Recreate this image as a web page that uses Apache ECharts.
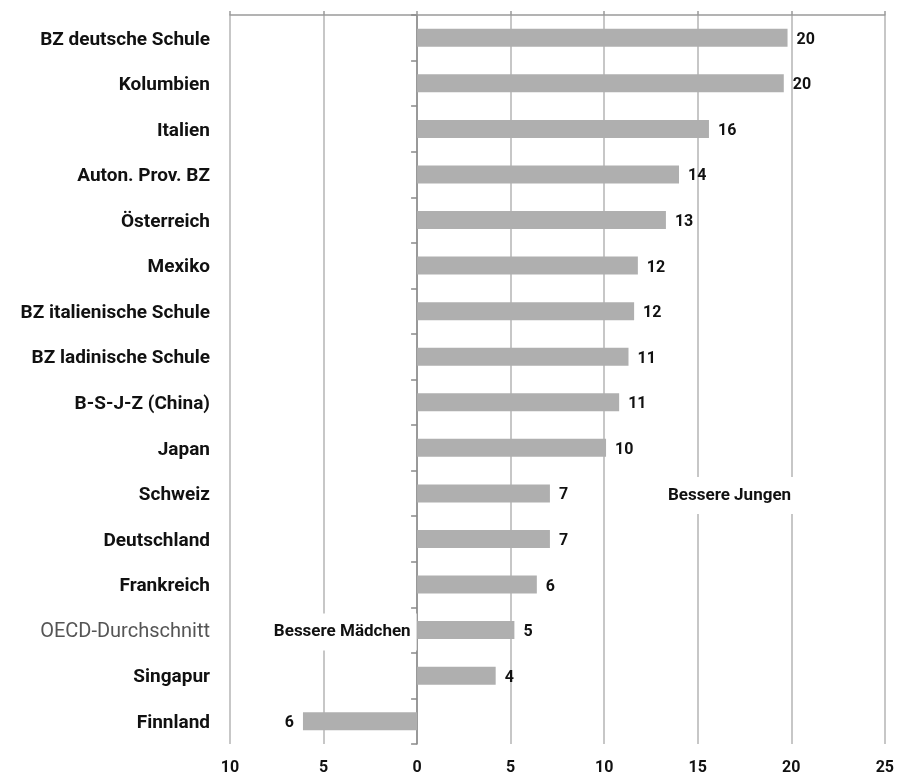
<!DOCTYPE html>
<html>
<head>
<meta charset="utf-8">
<script src="https://cdn.jsdelivr.net/npm/echarts@6/dist/echarts.min.js"></script>
<style>
  html, body { margin: 0; padding: 0; background: #fff; }
  #chart { width: 897px; height: 778px; }
</style>
</head>
<body>
<div id="chart"></div>
<script>
// Kategorien von oben nach unten
var categories = [
  'BZ deutsche Schule', 'Kolumbien', 'Italien', 'Auton. Prov. BZ', 'Österreich',
  'Mexiko', 'BZ italienische Schule', 'BZ ladinische Schule', 'B-S-J-Z (China)', 'Japan',
  'Schweiz', 'Deutschland', 'Frankreich', 'OECD-Durchschnitt', 'Singapur', 'Finnland'
];
// Punktedifferenz (positiv = bessere Jungen)
var values = [19.8, 19.6, 15.6, 14.0, 13.3, 11.8, 11.6, 11.3, 10.8, 10.1, 7.1, 7.1, 6.4, 5.2, 4.2, -6.1];
var axisTicks = [-10, -5, 0, 5, 10, 15, 20, 25];
var notes = [
  { text: 'Bessere Jungen', x: 16.7, y: 'Schweiz' },
  { text: 'Bessere Mädchen', x: -4.0, y: 'OECD-Durchschnitt' }
];

var font = 'Roboto';
var chart = echarts.init(document.getElementById('chart'));

chart.setOption({
  animation: false,
  textStyle: { fontFamily: font },
  grid: { left: 230, right: 12, top: 15, bottom: 34 },
  xAxis: [{
    type: 'value',
    min: axisTicks[0],
    max: axisTicks[axisTicks.length - 1],
    interval: 5,
    axisLine: { show: false },
    axisTick: { show: false },
    axisLabel: {
      margin: 16,
      color: '#111',
      fontSize: 16,
      fontWeight: 'bold',
      formatter: function(v) { return Math.abs(v); }
    },
    splitLine: { lineStyle: { color: '#b5b5b5', width: 1.5 } }
  }, {
    type: 'value',
    position: 'top',
    min: axisTicks[0],
    max: axisTicks[axisTicks.length - 1],
    interval: 5,
    axisLine: { show: true, lineStyle: { color: '#9a9a9a', width: 1.5 } },
    axisTick: { show: true, length: 4, lineStyle: { color: '#9a9a9a', width: 1.5 } },
    axisLabel: { show: false },
    splitLine: { show: false }
  }],
  yAxis: [{
    type: 'category',
    inverse: true,
    data: categories,
    axisLine: { onZero: true, lineStyle: { color: '#8a8a8a', width: 1.5 } },
    axisTick: { show: true, length: 6, lineStyle: { color: '#8a8a8a', width: 1.5 } },
    axisLabel: { show: false }
  }, {
    type: 'category',
    inverse: true,
    position: 'left',
    data: categories,
    axisLine: { show: false, onZero: false },
    axisTick: { show: false },
    axisLabel: {
      margin: 20,
      fontSize: 19,
      fontWeight: 'bold',
      color: '#111',
      padding: [4, 0, 0, 0],
      formatter: function(v) {
        return v === 'OECD-Durchschnitt' ? '{oecd|' + v + '}' : v;
      },
      rich: {
        oecd: { fontSize: 20, fontWeight: 'normal', color: '#555', fontFamily: font }
      }
    }
  }],
  series: [{
    type: 'bar',
    xAxisIndex: 0,
    yAxisIndex: 0,
    data: values.map(function(v) {
      // negative Balken: Beschriftung links
      return v < 0 ? { value: v, label: { position: 'left' } } : v;
    }),
    barWidth: 18,
    itemStyle: { color: '#afafaf' },
    label: {
      show: true,
      position: 'right',
      distance: 9,
      offset: [0, 2],
      color: '#111',
      fontSize: 16,
      fontWeight: 'bold',
      formatter: function(p) { return Math.round(Math.abs(p.value)); }
    },
    markPoint: {
      symbol: 'rect',
      symbolSize: 0,
      silent: true,
      label: {
        show: true,
        position: 'inside',
        offset: [0, 2],
        color: '#111',
        fontSize: 17,
        fontWeight: 'bold',
        backgroundColor: '#fff',
        padding: [10, 6],
        formatter: function(p) { return p.name; }
      },
      data: notes.map(function(n) {
        return { name: n.text, coord: [n.x, n.y] };
      })
    }
  }]
});
</script>
</body>
</html>
